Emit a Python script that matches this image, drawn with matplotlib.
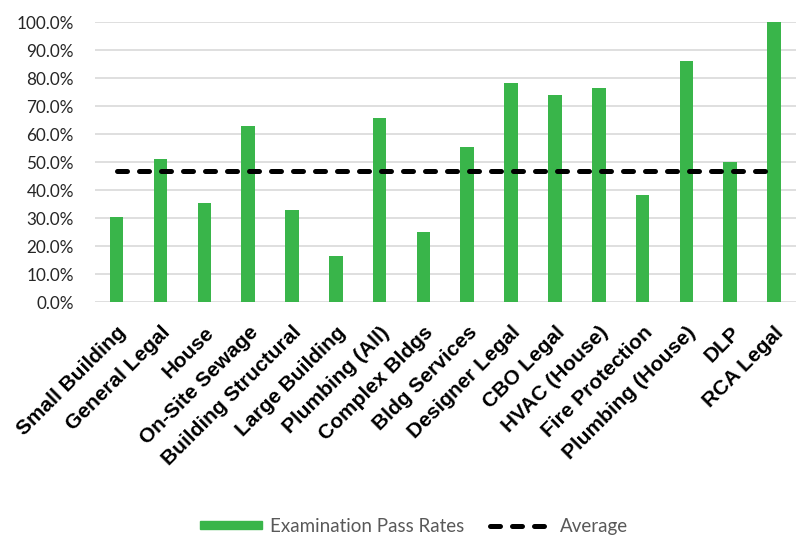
import numpy as np
import matplotlib.pyplot as plt
from matplotlib.ticker import PercentFormatter
from matplotlib.patches import Patch
from matplotlib.lines import Line2D

# Data
exams = ['Small Building', 'General Legal', 'House', 'On-Site Sewage',
         'Building Structural', 'Large Building', 'Plumbing (All)',
         'Complex Bldgs', 'Bldg Services', 'Designer Legal', 'CBO Legal',
         'HVAC (House)', 'Fire Protection', 'Plumbing (House)', 'DLP',
         'RCA Legal']
pass_rates = [30.4, 51.0, 35.2, 62.8, 32.8, 16.5, 65.6, 25.1, 55.5, 78.2,
              74.1, 76.4, 38.2, 85.9, 50.0, 100.0]
average = 46.7

green = '#39b54a'
dash = (0, (2.0, 2.4))

fig = plt.figure(figsize=(7.96, 5.37), dpi=100)
ax = fig.add_axes([0.119, 0.4376, 0.881, 0.5214])

x = np.arange(len(exams))
ax.bar(x, pass_rates, width=0.31, color=green, zorder=3)
ax.plot([x[0], x[-1]], [average, average], color='black', lw=3.6,
        ls=dash, dash_capstyle='round', zorder=4)

ax.set_xlim(-0.5, len(exams) - 0.5)
ax.set_ylim(0, 100)
ax.set_yticks(np.arange(0, 101, 10))
ax.yaxis.set_major_formatter(PercentFormatter(decimals=1))
ax.grid(axis='y', color='#d9d9d9', lw=1.2, zorder=0)
for s in ax.spines.values():
    s.set_visible(False)
ax.tick_params(axis='both', length=0)
ax.tick_params(axis='y', labelsize=12.3, labelcolor='#262626', pad=15)
for lbl in ax.get_yticklabels():
    lbl.set_family('Lato')

ax.set_xticks(x)
ax.set_xticklabels(exams, rotation=45, ha='right', rotation_mode='anchor',
                   fontsize=15, fontweight='bold', family='Liberation Sans')
ax.tick_params(axis='x', pad=15)

handles = [Patch(color=green),
           Line2D([0], [0], color='black', lw=3.6, ls=dash,
                  dash_capstyle='round')]
fig.legend(handles, ['Examination Pass Rates', 'Average'],
           loc='center', bbox_to_anchor=(0.52, 0.02), ncol=2, frameon=False,
           prop={'family': 'Lato', 'size': 13.5}, labelcolor='#595959',
           handlelength=3.3, handleheight=0.35, handletextpad=0.4,
           columnspacing=1.4)

fig.savefig('out.png', dpi=100)
